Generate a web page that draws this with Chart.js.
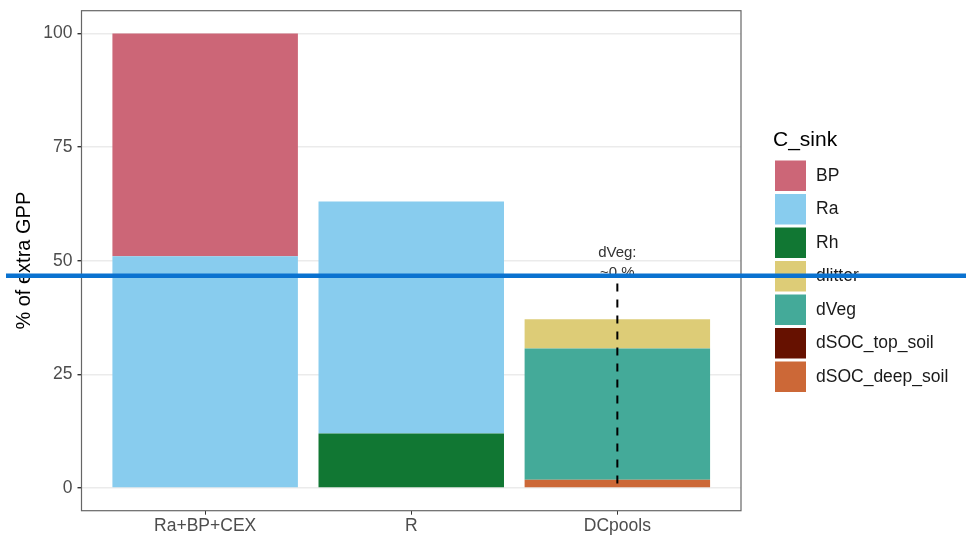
<!DOCTYPE html>
<html>
<head>
<meta charset="utf-8">
<script src="https://cdn.jsdelivr.net/npm/chart.js@4"></script>
<style>
    html, body { margin: 0; padding: 0; background: #ffffff; }
    #wrap { position: relative; width: 966px; height: 540px; }
</style>
</head>
<body>
<div id="wrap"><canvas id="sinkChart" width="966" height="540"></canvas></div>
<script>
const categories = ["Ra+BP+CEX", "R", "DCpools"];
const yTicks = [0, 25, 50, 75, 100];

// legend order, top to bottom (also the stacking order from the top)
const sinkNames = ["BP", "Ra", "Rh", "dlitter", "dVeg", "dSOC_top_soil", "dSOC_deep_soil"];
const sinkColors = ["#CC6677", "#88CCEE", "#117733", "#DDCC77", "#44AA99", "#661100", "#CC6837"];

const BP = [49, 0, 0];
const Ra = [51, 51, 0];
const Rh = [0, 12, 0];
const dlitter = [0, 0, 6.4];
const dVeg = [0, 0, 28.9];
const dSOC_top_soil = [0, 0, 0];
const dSOC_deep_soil = [0, 0, 1.8];

const sinkValues = [BP, Ra, Rh, dlitter, dVeg, dSOC_top_soil, dSOC_deep_soil];

// dashed marker over DCpools with its label
const markerCategory = 3;
const markerTop = 45;
const markerLines = ["dVeg:", "~0 %"];
const markerLineValues = [51.8, 47.4];

// horizontal reference line
const refLine = 46.7;

const font = "'Liberation Sans', Arial, sans-serif";

const datasets = sinkNames.map((name, i) => ({
    label: name,
    data: sinkValues[i].map((v, j) => ({ x: j + 1, y: v })),
    backgroundColor: sinkColors[i],
    borderWidth: 0,
    categoryPercentage: 1,
    barPercentage: 0.9
})).reverse();

const extras = {
    id: "extras",
    beforeDatasetsDraw(chart) {
        // plot frame
        const { ctx, chartArea: a } = chart;
        ctx.save();
        ctx.strokeStyle = "#666666";
        ctx.lineWidth = 1.2;
        ctx.strokeRect(a.left, a.top, a.right - a.left, a.bottom - a.top);
        ctx.restore();
    },
    afterDraw(chart) {
        const { ctx } = chart;
        const x = chart.scales.x;
        const y = chart.scales.y;

        // dashed marker + text
        const mx = x.getPixelForValue(markerCategory);
        ctx.save();
        ctx.strokeStyle = "#000000";
        ctx.lineWidth = 2;
        ctx.setLineDash([8, 8]);
        ctx.beginPath();
        ctx.moveTo(mx, y.getPixelForValue(markerTop));
        ctx.lineTo(mx, y.getPixelForValue(0));
        ctx.stroke();
        ctx.setLineDash([]);
        ctx.fillStyle = "#333333";
        ctx.font = "15px " + font;
        ctx.textAlign = "center";
        ctx.textBaseline = "middle";
        markerLines.forEach((t, i) => ctx.fillText(t, mx, y.getPixelForValue(markerLineValues[i])));
        ctx.restore();

        // legend
        const lx = 775;
        ctx.save();
        ctx.fillStyle = "#000000";
        ctx.font = "21px " + font;
        ctx.textBaseline = "middle";
        ctx.fillText("C_sink", lx - 2, 140.5);
        ctx.font = "17.5px " + font;
        sinkNames.forEach((name, i) => {
            const top = 160.5 + i * 33.5;
            ctx.fillStyle = sinkColors[i];
            ctx.fillRect(lx, top, 31, 30.5);
            ctx.fillStyle = "#1a1a1a";
            ctx.fillText(name, 816, top + 15.5);
        });
        ctx.restore();

        // reference line across the figure
        const ry = y.getPixelForValue(refLine);
        ctx.save();
        ctx.strokeStyle = "#0A72D0";
        ctx.lineWidth = 4.5;
        ctx.beginPath();
        ctx.moveTo(6, ry);
        ctx.lineTo(chart.width, ry);
        ctx.stroke();
        ctx.restore();
    }
};

new Chart(document.getElementById("sinkChart"), {
    type: "bar",
    data: { datasets: datasets },
    options: {
        responsive: false,
        animation: false,
        layout: { padding: { top: 0, right: 225, left: 0, bottom: 0 } },
        plugins: {
            legend: { display: false },
            tooltip: { enabled: false }
        },
        scales: {
            x: {
                type: "linear",
                stacked: true,
                offset: false,
                min: 0.4,
                max: 3.6,
                afterBuildTicks: (s) => { s.ticks = categories.map((c, i) => ({ value: i + 1 })); },
                afterFit: (s) => { s.height = 29.3; },
                ticks: {
                    callback: (v) => categories[v - 1],
                    color: "#4d4d4d",
                    font: { family: font, size: 17.5 },
                    padding: 1,
                    maxRotation: 0
                },
                grid: { offset: false, drawOnChartArea: false, drawTicks: true, tickLength: 4, tickColor: "#333333" },
                border: { display: false }
            },
            y: {
                stacked: true,
                min: -5,
                max: 105,
                afterBuildTicks: (s) => { s.ticks = yTicks.map(v => ({ value: v })); },
                afterFit: (s) => { s.width = 81.5; s.paddingTop = 10.7; },
                ticks: {
                    color: "#4d4d4d",
                    font: { family: font, size: 17.5 },
                    padding: 5
                },
                grid: { color: "#ebebeb", lineWidth: 1.4, tickLength: 4, tickColor: "#333333" },
                border: { display: false },
                title: {
                    display: true,
                    text: "% of extra GPP",
                    color: "#000000",
                    font: { family: font, size: 20 },
                    padding: { top: 12, bottom: 0 }
                }
            }
        }
    },
    plugins: [extras]
});
</script>
</body>
</html>
